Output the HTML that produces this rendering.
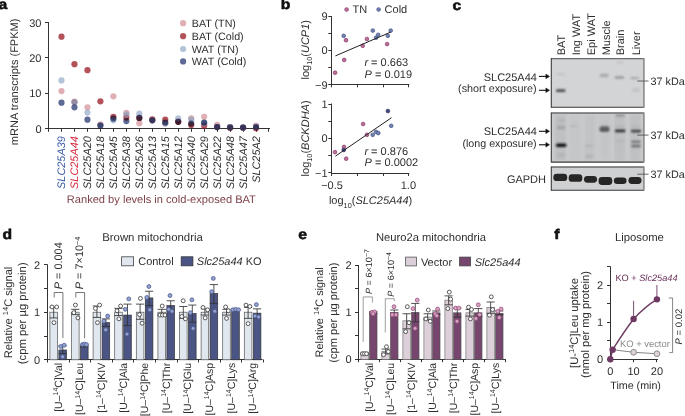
<!DOCTYPE html>
<html><head><meta charset="utf-8"><style>
html,body{margin:0;padding:0;background:#fff;width:685px;height:416px;overflow:hidden}
svg{display:block;will-change:transform;filter:blur(0.3px);text-rendering:geometricPrecision;font-family:"Liberation Sans",sans-serif}
</style></head><body>
<svg width="685" height="416" viewBox="0 0 685 416" fill="#2e2e2e">
<text transform="translate(-1.6,8.8) scale(1.12,1)" font-size="14" font-weight="bold" fill="#111" stroke="#111" stroke-width="0.55">a</text>
<text transform="translate(280.8,9.0) scale(1.12,1)" font-size="14" font-weight="bold" fill="#111" stroke="#111" stroke-width="0.55">b</text>
<text transform="translate(452.6,9.5) scale(1.12,1)" font-size="14" font-weight="bold" fill="#111" stroke="#111" stroke-width="0.55">c</text>
<text transform="translate(2.4,239.4) scale(1.12,1)" font-size="14" font-weight="bold" fill="#111" stroke="#111" stroke-width="0.55">d</text>
<text transform="translate(298.3,239.4) scale(1.12,1)" font-size="14" font-weight="bold" fill="#111" stroke="#111" stroke-width="0.55">e</text>
<text transform="translate(554.3,239.4) scale(1.12,1)" font-size="14" font-weight="bold" fill="#111" stroke="#111" stroke-width="0.55">f</text>
<line x1="48.50" y1="22.00" x2="48.50" y2="129.00" stroke="#333" stroke-width="1"/>
<line x1="48.00" y1="128.50" x2="270.00" y2="128.50" stroke="#333" stroke-width="1"/>
<line x1="45.00" y1="128.50" x2="48.50" y2="128.50" stroke="#333" stroke-width="1"/>
<text x="41.50" y="132.50" font-size="11" text-anchor="end">0</text>
<line x1="45.00" y1="93.50" x2="48.50" y2="93.50" stroke="#333" stroke-width="1"/>
<text x="41.50" y="97.17" font-size="11" text-anchor="end">10</text>
<line x1="45.00" y1="57.50" x2="48.50" y2="57.50" stroke="#333" stroke-width="1"/>
<text x="41.50" y="61.84" font-size="11" text-anchor="end">20</text>
<line x1="45.00" y1="22.50" x2="48.50" y2="22.50" stroke="#333" stroke-width="1"/>
<text x="41.50" y="26.51" font-size="11" text-anchor="end">30</text>
<line x1="48.50" y1="128.50" x2="48.50" y2="131.80" stroke="#333" stroke-width="1"/>
<line x1="61.50" y1="128.50" x2="61.50" y2="131.80" stroke="#333" stroke-width="1"/>
<line x1="74.50" y1="128.50" x2="74.50" y2="131.80" stroke="#333" stroke-width="1"/>
<line x1="87.50" y1="128.50" x2="87.50" y2="131.80" stroke="#333" stroke-width="1"/>
<line x1="100.50" y1="128.50" x2="100.50" y2="131.80" stroke="#333" stroke-width="1"/>
<line x1="113.50" y1="128.50" x2="113.50" y2="131.80" stroke="#333" stroke-width="1"/>
<line x1="126.50" y1="128.50" x2="126.50" y2="131.80" stroke="#333" stroke-width="1"/>
<line x1="139.50" y1="128.50" x2="139.50" y2="131.80" stroke="#333" stroke-width="1"/>
<line x1="152.50" y1="128.50" x2="152.50" y2="131.80" stroke="#333" stroke-width="1"/>
<line x1="165.50" y1="128.50" x2="165.50" y2="131.80" stroke="#333" stroke-width="1"/>
<line x1="178.50" y1="128.50" x2="178.50" y2="131.80" stroke="#333" stroke-width="1"/>
<line x1="191.50" y1="128.50" x2="191.50" y2="131.80" stroke="#333" stroke-width="1"/>
<line x1="204.50" y1="128.50" x2="204.50" y2="131.80" stroke="#333" stroke-width="1"/>
<line x1="217.50" y1="128.50" x2="217.50" y2="131.80" stroke="#333" stroke-width="1"/>
<line x1="230.50" y1="128.50" x2="230.50" y2="131.80" stroke="#333" stroke-width="1"/>
<line x1="243.50" y1="128.50" x2="243.50" y2="131.80" stroke="#333" stroke-width="1"/>
<line x1="256.50" y1="128.50" x2="256.50" y2="131.80" stroke="#333" stroke-width="1"/>
<line x1="268.50" y1="128.50" x2="268.50" y2="131.80" stroke="#333" stroke-width="1"/>
<text x="17.60" y="81.90" font-size="11" text-anchor="middle" transform="rotate(-90 17.60 81.90)">mRNA transcripts (FPKM)</text>
<text x="65.40" y="136.20" font-size="10.9" text-anchor="end" fill="#3b5ba5" font-style="italic" transform="rotate(-90 65.40 136.20)">SLC25A39</text>
<text x="78.37" y="136.20" font-size="10.9" text-anchor="end" fill="#d7263d" font-style="italic" transform="rotate(-90 78.37 136.20)">SLC25A44</text>
<text x="91.34" y="136.20" font-size="10.9" text-anchor="end" font-style="italic" transform="rotate(-90 91.34 136.20)">SLC25A20</text>
<text x="104.31" y="136.20" font-size="10.9" text-anchor="end" font-style="italic" transform="rotate(-90 104.31 136.20)">SLC25A18</text>
<text x="117.28" y="136.20" font-size="10.9" text-anchor="end" font-style="italic" transform="rotate(-90 117.28 136.20)">SLC25A45</text>
<text x="130.25" y="136.20" font-size="10.9" text-anchor="end" font-style="italic" transform="rotate(-90 130.25 136.20)">SLC25A38</text>
<text x="143.22" y="136.20" font-size="10.9" text-anchor="end" font-style="italic" transform="rotate(-90 143.22 136.20)">SLC25A26</text>
<text x="156.19" y="136.20" font-size="10.9" text-anchor="end" font-style="italic" transform="rotate(-90 156.19 136.20)">SLC25A13</text>
<text x="169.16" y="136.20" font-size="10.9" text-anchor="end" font-style="italic" transform="rotate(-90 169.16 136.20)">SLC25A15</text>
<text x="182.13" y="136.20" font-size="10.9" text-anchor="end" font-style="italic" transform="rotate(-90 182.13 136.20)">SLC25A12</text>
<text x="195.10" y="136.20" font-size="10.9" text-anchor="end" font-style="italic" transform="rotate(-90 195.10 136.20)">SLC25A40</text>
<text x="208.07" y="136.20" font-size="10.9" text-anchor="end" font-style="italic" transform="rotate(-90 208.07 136.20)">SLC25A29</text>
<text x="221.04" y="136.20" font-size="10.9" text-anchor="end" font-style="italic" transform="rotate(-90 221.04 136.20)">SLC25A22</text>
<text x="234.01" y="136.20" font-size="10.9" text-anchor="end" font-style="italic" transform="rotate(-90 234.01 136.20)">SLC25A48</text>
<text x="246.98" y="136.20" font-size="10.9" text-anchor="end" font-style="italic" transform="rotate(-90 246.98 136.20)">SLC25A47</text>
<text x="259.95" y="136.20" font-size="10.9" text-anchor="end" font-style="italic" transform="rotate(-90 259.95 136.20)">SLC25A2</text>
<text x="66.80" y="203.00" font-size="11.1" fill="#7d3f47">Ranked by levels in cold-exposed BAT</text>
<circle cx="61.50" cy="91.05" r="3.1" fill="rgb(204,128,134)" fill-opacity="0.63"/>
<circle cx="74.47" cy="101.65" r="3.1" fill="rgb(204,128,134)" fill-opacity="0.63"/>
<circle cx="87.44" cy="107.30" r="3.1" fill="rgb(204,128,134)" fill-opacity="0.63"/>
<circle cx="100.41" cy="124.26" r="3.1" fill="rgb(204,128,134)" fill-opacity="0.63"/>
<circle cx="113.38" cy="96.35" r="3.1" fill="rgb(204,128,134)" fill-opacity="0.63"/>
<circle cx="126.35" cy="112.95" r="3.1" fill="rgb(204,128,134)" fill-opacity="0.63"/>
<circle cx="139.32" cy="123.20" r="3.1" fill="rgb(204,128,134)" fill-opacity="0.63"/>
<circle cx="152.29" cy="120.37" r="3.1" fill="rgb(204,128,134)" fill-opacity="0.63"/>
<circle cx="165.26" cy="123.20" r="3.1" fill="rgb(204,128,134)" fill-opacity="0.63"/>
<circle cx="178.23" cy="121.08" r="3.1" fill="rgb(204,128,134)" fill-opacity="0.63"/>
<circle cx="191.20" cy="118.25" r="3.1" fill="rgb(204,128,134)" fill-opacity="0.63"/>
<circle cx="204.17" cy="116.84" r="3.1" fill="rgb(204,128,134)" fill-opacity="0.63"/>
<circle cx="217.14" cy="124.97" r="3.1" fill="rgb(204,128,134)" fill-opacity="0.63"/>
<circle cx="230.11" cy="127.09" r="3.1" fill="rgb(204,128,134)" fill-opacity="0.63"/>
<circle cx="243.08" cy="127.79" r="3.1" fill="rgb(204,128,134)" fill-opacity="0.63"/>
<circle cx="256.05" cy="125.67" r="3.1" fill="rgb(204,128,134)" fill-opacity="0.63"/>
<circle cx="61.50" cy="36.64" r="3.1" fill="rgb(155,24,35)" fill-opacity="0.75"/>
<circle cx="74.47" cy="64.20" r="3.1" fill="rgb(155,24,35)" fill-opacity="0.75"/>
<circle cx="87.44" cy="70.21" r="3.1" fill="rgb(155,24,35)" fill-opacity="0.75"/>
<circle cx="100.41" cy="101.30" r="3.1" fill="rgb(155,24,35)" fill-opacity="0.75"/>
<circle cx="113.38" cy="116.84" r="3.1" fill="rgb(155,24,35)" fill-opacity="0.75"/>
<circle cx="126.35" cy="117.55" r="3.1" fill="rgb(155,24,35)" fill-opacity="0.75"/>
<circle cx="139.32" cy="117.90" r="3.1" fill="rgb(155,24,35)" fill-opacity="0.75"/>
<circle cx="152.29" cy="119.31" r="3.1" fill="rgb(155,24,35)" fill-opacity="0.75"/>
<circle cx="165.26" cy="119.67" r="3.1" fill="rgb(155,24,35)" fill-opacity="0.75"/>
<circle cx="178.23" cy="121.79" r="3.1" fill="rgb(155,24,35)" fill-opacity="0.75"/>
<circle cx="191.20" cy="124.97" r="3.1" fill="rgb(155,24,35)" fill-opacity="0.75"/>
<circle cx="204.17" cy="125.67" r="3.1" fill="rgb(155,24,35)" fill-opacity="0.75"/>
<circle cx="217.14" cy="127.09" r="3.1" fill="rgb(155,24,35)" fill-opacity="0.75"/>
<circle cx="230.11" cy="127.79" r="3.1" fill="rgb(155,24,35)" fill-opacity="0.75"/>
<circle cx="243.08" cy="127.79" r="3.1" fill="rgb(155,24,35)" fill-opacity="0.75"/>
<circle cx="256.05" cy="128.15" r="3.1" fill="rgb(155,24,35)" fill-opacity="0.75"/>
<circle cx="61.50" cy="80.45" r="3.1" fill="rgb(134,160,193)" fill-opacity="0.63"/>
<circle cx="74.47" cy="102.36" r="3.1" fill="rgb(134,160,193)" fill-opacity="0.63"/>
<circle cx="87.44" cy="112.60" r="3.1" fill="rgb(134,160,193)" fill-opacity="0.63"/>
<circle cx="100.41" cy="125.32" r="3.1" fill="rgb(134,160,193)" fill-opacity="0.63"/>
<circle cx="113.38" cy="120.37" r="3.1" fill="rgb(134,160,193)" fill-opacity="0.63"/>
<circle cx="126.35" cy="114.37" r="3.1" fill="rgb(134,160,193)" fill-opacity="0.63"/>
<circle cx="139.32" cy="113.66" r="3.1" fill="rgb(134,160,193)" fill-opacity="0.63"/>
<circle cx="152.29" cy="120.37" r="3.1" fill="rgb(134,160,193)" fill-opacity="0.63"/>
<circle cx="165.26" cy="123.55" r="3.1" fill="rgb(134,160,193)" fill-opacity="0.63"/>
<circle cx="178.23" cy="118.25" r="3.1" fill="rgb(134,160,193)" fill-opacity="0.63"/>
<circle cx="191.20" cy="119.67" r="3.1" fill="rgb(134,160,193)" fill-opacity="0.63"/>
<circle cx="204.17" cy="123.20" r="3.1" fill="rgb(134,160,193)" fill-opacity="0.63"/>
<circle cx="217.14" cy="126.73" r="3.1" fill="rgb(134,160,193)" fill-opacity="0.63"/>
<circle cx="230.11" cy="127.09" r="3.1" fill="rgb(134,160,193)" fill-opacity="0.63"/>
<circle cx="243.08" cy="127.79" r="3.1" fill="rgb(134,160,193)" fill-opacity="0.63"/>
<circle cx="256.05" cy="126.73" r="3.1" fill="rgb(134,160,193)" fill-opacity="0.63"/>
<circle cx="61.50" cy="102.71" r="3.1" fill="rgb(93,106,149)" style="mix-blend-mode:multiply"/>
<circle cx="74.47" cy="107.30" r="3.1" fill="rgb(93,106,149)" style="mix-blend-mode:multiply"/>
<circle cx="87.44" cy="119.67" r="3.1" fill="rgb(93,106,149)" style="mix-blend-mode:multiply"/>
<circle cx="100.41" cy="125.67" r="3.1" fill="rgb(93,106,149)" style="mix-blend-mode:multiply"/>
<circle cx="113.38" cy="118.61" r="3.1" fill="rgb(93,106,149)" style="mix-blend-mode:multiply"/>
<circle cx="126.35" cy="121.08" r="3.1" fill="rgb(93,106,149)" style="mix-blend-mode:multiply"/>
<circle cx="139.32" cy="117.90" r="3.1" fill="rgb(93,106,149)" style="mix-blend-mode:multiply"/>
<circle cx="152.29" cy="120.37" r="3.1" fill="rgb(93,106,149)" style="mix-blend-mode:multiply"/>
<circle cx="165.26" cy="122.49" r="3.1" fill="rgb(93,106,149)" style="mix-blend-mode:multiply"/>
<circle cx="178.23" cy="121.79" r="3.1" fill="rgb(93,106,149)" style="mix-blend-mode:multiply"/>
<circle cx="191.20" cy="123.55" r="3.1" fill="rgb(93,106,149)" style="mix-blend-mode:multiply"/>
<circle cx="204.17" cy="122.49" r="3.1" fill="rgb(93,106,149)" style="mix-blend-mode:multiply"/>
<circle cx="217.14" cy="127.09" r="3.1" fill="rgb(93,106,149)" style="mix-blend-mode:multiply"/>
<circle cx="230.11" cy="127.44" r="3.1" fill="rgb(93,106,149)" style="mix-blend-mode:multiply"/>
<circle cx="243.08" cy="127.44" r="3.1" fill="rgb(93,106,149)" style="mix-blend-mode:multiply"/>
<circle cx="256.05" cy="127.09" r="3.1" fill="rgb(93,106,149)" style="mix-blend-mode:multiply"/>
<circle cx="74.47" cy="102.00" r="3.1" fill="rgb(110,80,115)" fill-opacity="0.3"/>
<circle cx="183.10" cy="23.20" r="3.1" fill="rgb(204,128,134)" fill-opacity="0.63"/>
<text x="191.80" y="27.20" font-size="10.7">BAT (TN)</text>
<circle cx="183.10" cy="36.20" r="3.1" fill="rgb(155,24,35)" fill-opacity="0.75"/>
<text x="191.80" y="40.20" font-size="10.7">BAT (Cold)</text>
<circle cx="183.10" cy="49.00" r="3.1" fill="rgb(134,160,193)" fill-opacity="0.63"/>
<text x="191.80" y="53.00" font-size="10.7">WAT (TN)</text>
<circle cx="183.10" cy="61.40" r="3.1" fill="rgb(0,19,87)" fill-opacity="0.63"/>
<text x="191.80" y="65.40" font-size="10.7">WAT (Cold)</text>
<line x1="331.50" y1="16.00" x2="331.50" y2="85.00" stroke="#333" stroke-width="1"/>
<line x1="331.00" y1="84.50" x2="409.30" y2="84.50" stroke="#333" stroke-width="1"/>
<line x1="328.30" y1="16.50" x2="331.50" y2="16.50" stroke="#333" stroke-width="1"/>
<text x="327.50" y="20.20" font-size="11" text-anchor="end">9</text>
<line x1="328.30" y1="33.50" x2="331.50" y2="33.50" stroke="#333" stroke-width="1"/>
<line x1="328.30" y1="50.50" x2="331.50" y2="50.50" stroke="#333" stroke-width="1"/>
<text x="327.50" y="54.40" font-size="11" text-anchor="end">0</text>
<line x1="328.30" y1="67.50" x2="331.50" y2="67.50" stroke="#333" stroke-width="1"/>
<line x1="328.30" y1="84.50" x2="331.50" y2="84.50" stroke="#333" stroke-width="1"/>
<text x="327.50" y="88.60" font-size="11" text-anchor="end">−9</text>
<line x1="331.50" y1="84.50" x2="331.50" y2="87.30" stroke="#333" stroke-width="1"/>
<line x1="357.50" y1="84.50" x2="357.50" y2="87.30" stroke="#333" stroke-width="1"/>
<line x1="383.50" y1="84.50" x2="383.50" y2="87.30" stroke="#333" stroke-width="1"/>
<line x1="408.50" y1="84.50" x2="408.50" y2="87.30" stroke="#333" stroke-width="1"/>
<circle cx="335.10" cy="72.70" r="1.85" fill="#bb7098" stroke="#8e3d6c" stroke-width="0.75"/>
<circle cx="344.20" cy="59.90" r="1.85" fill="#bb7098" stroke="#8e3d6c" stroke-width="0.75"/>
<circle cx="343.70" cy="35.80" r="1.85" fill="#7282ae" stroke="#4a5a8c" stroke-width="0.75"/>
<circle cx="346.00" cy="40.20" r="1.85" fill="#bb7098" stroke="#8e3d6c" stroke-width="0.75"/>
<circle cx="362.70" cy="45.80" r="1.85" fill="#bb7098" stroke="#8e3d6c" stroke-width="0.75"/>
<circle cx="366.90" cy="39.00" r="1.85" fill="#bb7098" stroke="#8e3d6c" stroke-width="0.75"/>
<circle cx="372.80" cy="30.60" r="1.85" fill="#7282ae" stroke="#4a5a8c" stroke-width="0.75"/>
<circle cx="376.00" cy="37.70" r="1.85" fill="#7282ae" stroke="#4a5a8c" stroke-width="0.75"/>
<circle cx="378.20" cy="34.80" r="1.85" fill="#7282ae" stroke="#4a5a8c" stroke-width="0.75"/>
<circle cx="387.80" cy="35.80" r="1.85" fill="#7282ae" stroke="#4a5a8c" stroke-width="0.75"/>
<circle cx="387.10" cy="44.10" r="1.85" fill="#bb7098" stroke="#8e3d6c" stroke-width="0.75"/>
<circle cx="390.70" cy="30.60" r="1.85" fill="#7282ae" stroke="#4a5a8c" stroke-width="0.75"/>
<line x1="335.40" y1="55.90" x2="390.70" y2="32.10" stroke="#222" stroke-width="1"/>
<text x="364.40" y="65.80" font-size="11"><tspan font-style="italic">r</tspan> = 0.663</text>
<text x="364.60" y="77.60" font-size="11"><tspan font-style="italic">P</tspan> = 0.019</text>
<text x="308.80" y="49.80" font-size="11" text-anchor="middle" transform="rotate(-90 308.80 49.80)">log<tspan font-size="7.3" dy="3.4">10</tspan><tspan dy="-3.4">(</tspan><tspan font-style="italic">UCP1</tspan>)</text>
<circle cx="346.60" cy="9.50" r="1.85" fill="#bb7098" stroke="#8e3d6c" stroke-width="0.75"/>
<text x="352.60" y="13.30" font-size="11">TN</text>
<circle cx="378.60" cy="9.50" r="1.85" fill="#7282ae" stroke="#4a5a8c" stroke-width="0.75"/>
<text x="384.60" y="13.30" font-size="11">Cold</text>
<line x1="331.50" y1="103.50" x2="331.50" y2="174.00" stroke="#333" stroke-width="1"/>
<line x1="331.00" y1="173.50" x2="409.30" y2="173.50" stroke="#333" stroke-width="1"/>
<line x1="328.30" y1="104.50" x2="331.50" y2="104.50" stroke="#333" stroke-width="1"/>
<text x="327.50" y="108.00" font-size="11" text-anchor="end">1</text>
<line x1="328.30" y1="121.50" x2="331.50" y2="121.50" stroke="#333" stroke-width="1"/>
<line x1="328.30" y1="138.50" x2="331.50" y2="138.50" stroke="#333" stroke-width="1"/>
<text x="327.50" y="142.40" font-size="11" text-anchor="end">0</text>
<line x1="328.30" y1="155.50" x2="331.50" y2="155.50" stroke="#333" stroke-width="1"/>
<line x1="328.30" y1="172.50" x2="331.50" y2="172.50" stroke="#333" stroke-width="1"/>
<text x="327.50" y="176.80" font-size="11" text-anchor="end">−1</text>
<line x1="331.50" y1="173.50" x2="331.50" y2="176.00" stroke="#333" stroke-width="1"/>
<line x1="357.50" y1="173.50" x2="357.50" y2="176.00" stroke="#333" stroke-width="1"/>
<line x1="383.50" y1="173.50" x2="383.50" y2="176.00" stroke="#333" stroke-width="1"/>
<line x1="408.50" y1="173.50" x2="408.50" y2="176.00" stroke="#333" stroke-width="1"/>
<circle cx="335.00" cy="152.10" r="1.85" fill="#bb7098" stroke="#8e3d6c" stroke-width="0.75"/>
<circle cx="344.00" cy="146.90" r="1.85" fill="#bb7098" stroke="#8e3d6c" stroke-width="0.75"/>
<circle cx="343.70" cy="150.00" r="1.85" fill="#45487a" stroke="#2e3262" stroke-width="0.75"/>
<circle cx="346.20" cy="158.70" r="1.85" fill="#bb7098" stroke="#8e3d6c" stroke-width="0.75"/>
<circle cx="363.10" cy="124.00" r="1.85" fill="#bb7098" stroke="#8e3d6c" stroke-width="0.75"/>
<circle cx="366.90" cy="134.80" r="1.85" fill="#bb7098" stroke="#8e3d6c" stroke-width="0.75"/>
<circle cx="372.70" cy="134.80" r="1.85" fill="#7282ae" stroke="#4a5a8c" stroke-width="0.75"/>
<circle cx="376.00" cy="131.90" r="1.85" fill="#7282ae" stroke="#4a5a8c" stroke-width="0.75"/>
<circle cx="378.30" cy="133.10" r="1.85" fill="#7282ae" stroke="#4a5a8c" stroke-width="0.75"/>
<circle cx="387.90" cy="111.00" r="1.85" fill="#45487a" stroke="#2e3262" stroke-width="0.75"/>
<circle cx="391.20" cy="125.80" r="1.85" fill="#7282ae" stroke="#4a5a8c" stroke-width="0.75"/>
<line x1="335.40" y1="156.20" x2="391.50" y2="117.70" stroke="#222" stroke-width="1"/>
<text x="364.40" y="154.60" font-size="11"><tspan font-style="italic">r</tspan> = 0.876</text>
<text x="364.60" y="166.40" font-size="11"><tspan font-style="italic">P</tspan> = 0.0002</text>
<text x="308.80" y="138.40" font-size="11" text-anchor="middle" transform="rotate(-90 308.80 138.40)">log<tspan font-size="7.3" dy="3.4">10</tspan><tspan dy="-3.4">(</tspan><tspan font-style="italic">BCKDHA</tspan>)</text>
<text x="332.00" y="188.80" font-size="11" text-anchor="middle">−0.5</text>
<text x="408.40" y="188.80" font-size="11" text-anchor="middle">1.0</text>
<text x="370.60" y="204.30" font-size="11" text-anchor="middle">log<tspan font-size="7.3" dy="3.4">10</tspan><tspan dy="-3.4">(</tspan><tspan font-style="italic">SLC25A44</tspan>)</text>
<defs><filter id="bl1" x="-50%" y="-200%" width="200%" height="500%"><feGaussianBlur stdDeviation="0.8"/></filter><filter id="bl2" x="-50%" y="-200%" width="200%" height="500%"><feGaussianBlur stdDeviation="0.55"/></filter><filter id="bl3" x="-50%" y="-200%" width="200%" height="500%"><feGaussianBlur stdDeviation="1.2"/></filter></defs>
<text x="565.20" y="55.30" font-size="11" transform="rotate(-90 565.20 55.30)">BAT</text>
<text x="580.00" y="55.30" font-size="11" transform="rotate(-90 580.00 55.30)">Ing WAT</text>
<text x="594.80" y="55.30" font-size="11" transform="rotate(-90 594.80 55.30)">Epi WAT</text>
<text x="609.60" y="55.30" font-size="11" transform="rotate(-90 609.60 55.30)">Muscle</text>
<text x="624.50" y="55.30" font-size="11" transform="rotate(-90 624.50 55.30)">Brain</text>
<text x="640.00" y="55.30" font-size="11" transform="rotate(-90 640.00 55.30)">Liver</text>
<rect x="551.30" y="58.70" width="92.60" height="48.60" fill="#d3d4d6"/>
<line x1="551.30" y1="58.70" x2="643.90" y2="58.70" stroke="#6a6a6a" stroke-width="1.3"/>
<line x1="551.30" y1="107.30" x2="643.90" y2="107.30" stroke="#3a3a3a" stroke-width="1.1"/>
<line x1="551.30" y1="58.10" x2="551.30" y2="107.80" stroke="#3a3a3a" stroke-width="1.1"/>
<line x1="643.90" y1="58.10" x2="643.90" y2="107.80" stroke="#8a8a8a" stroke-width="1.6"/>
<rect x="551.30" y="113.00" width="92.60" height="49.10" fill="#c9cbcd"/>
<line x1="551.30" y1="113.00" x2="643.90" y2="113.00" stroke="#6a6a6a" stroke-width="1.3"/>
<line x1="551.30" y1="162.10" x2="643.90" y2="162.10" stroke="#3a3a3a" stroke-width="1.1"/>
<line x1="551.30" y1="112.40" x2="551.30" y2="162.60" stroke="#3a3a3a" stroke-width="1.1"/>
<line x1="643.90" y1="112.40" x2="643.90" y2="162.60" stroke="#8a8a8a" stroke-width="1.6"/>
<rect x="551.30" y="167.00" width="92.60" height="23.30" fill="#cfd0d2"/>
<line x1="551.30" y1="167.00" x2="643.90" y2="167.00" stroke="#6a6a6a" stroke-width="1.3"/>
<line x1="551.30" y1="190.30" x2="643.90" y2="190.30" stroke="#3a3a3a" stroke-width="1.1"/>
<line x1="551.30" y1="166.40" x2="551.30" y2="190.80" stroke="#3a3a3a" stroke-width="1.1"/>
<line x1="643.90" y1="166.40" x2="643.90" y2="190.80" stroke="#8a8a8a" stroke-width="1.6"/>
<rect x="555.95" y="89.30" width="9.50" height="2.80" rx="1.40" fill="#3a3a3a" fill-opacity="0.9" filter="url(#bl1)"/>
<rect x="557.00" y="72.95" width="8.00" height="2.50" rx="1.25" fill="#bbb" fill-opacity="0.6" filter="url(#bl3)"/>
<rect x="599.70" y="73.75" width="9.00" height="3.50" rx="1.75" fill="#999" fill-opacity="0.7" filter="url(#bl1)"/>
<rect x="614.65" y="76.50" width="9.50" height="2.00" rx="1.00" fill="#777" fill-opacity="0.8" filter="url(#bl1)"/>
<rect x="616.00" y="61.05" width="8.00" height="2.50" rx="1.25" fill="#bbb" fill-opacity="0.6" filter="url(#bl3)"/>
<rect x="630.10" y="77.00" width="9.00" height="2.20" rx="1.10" fill="#999" fill-opacity="0.7" filter="url(#bl1)"/>
<rect x="632.00" y="88.00" width="8.00" height="4.00" rx="2.00" fill="#b8b8b8" fill-opacity="0.6" filter="url(#bl3)"/>
<rect x="555.00" y="114.5" width="11" height="46" fill="#666" fill-opacity="0.1" filter="url(#bl3)"/>
<rect x="569.80" y="114.5" width="11" height="46" fill="#666" fill-opacity="0.05" filter="url(#bl3)"/>
<rect x="584.60" y="114.5" width="11" height="46" fill="#666" fill-opacity="0.07" filter="url(#bl3)"/>
<rect x="599.40" y="114.5" width="11" height="46" fill="#666" fill-opacity="0.06" filter="url(#bl3)"/>
<rect x="614.30" y="114.5" width="11" height="46" fill="#666" fill-opacity="0.1" filter="url(#bl3)"/>
<rect x="629.80" y="114.5" width="11" height="46" fill="#666" fill-opacity="0.1" filter="url(#bl3)"/>
<rect x="555.95" y="143.60" width="10.50" height="3.40" rx="1.70" fill="#111" fill-opacity="1" filter="url(#bl1)"/>
<rect x="556.75" y="125.85" width="8.50" height="3.50" rx="1.75" fill="#999" fill-opacity="0.7" filter="url(#bl3)"/>
<rect x="557.00" y="119.35" width="8.00" height="2.50" rx="1.25" fill="#aaa" fill-opacity="0.6" filter="url(#bl3)"/>
<rect x="557.00" y="153.25" width="8.00" height="3.50" rx="1.75" fill="#aaa" fill-opacity="0.6" filter="url(#bl3)"/>
<rect x="569.50" y="124.85" width="8.00" height="2.50" rx="1.25" fill="#b0b0b0" fill-opacity="0.6" filter="url(#bl3)"/>
<rect x="585.00" y="144.45" width="8.00" height="2.50" rx="1.25" fill="#aaa" fill-opacity="0.6" filter="url(#bl3)"/>
<rect x="585.00" y="154.60" width="8.00" height="4.00" rx="2.00" fill="#aaa" fill-opacity="0.6" filter="url(#bl3)"/>
<rect x="599.50" y="126.00" width="10.00" height="5.20" rx="2.60" fill="#5a5a5a" fill-opacity="0.85" filter="url(#bl1)"/>
<rect x="599.75" y="129.30" width="9.50" height="2.20" rx="1.10" fill="#333" fill-opacity="0.6" filter="url(#bl1)"/>
<rect x="614.95" y="129.50" width="10.50" height="2.80" rx="1.40" fill="#222" fill-opacity="0.95" filter="url(#bl1)"/>
<rect x="615.70" y="113.80" width="9.00" height="3.00" rx="1.50" fill="#888" fill-opacity="0.7" filter="url(#bl1)"/>
<rect x="615.70" y="125.50" width="9.00" height="2.00" rx="1.00" fill="#aaa" fill-opacity="0.5" filter="url(#bl1)"/>
<rect x="615.70" y="140.00" width="9.00" height="2.00" rx="1.00" fill="#aaa" fill-opacity="0.5" filter="url(#bl1)"/>
<rect x="630.75" y="129.70" width="10.50" height="2.80" rx="1.40" fill="#333" fill-opacity="0.9" filter="url(#bl1)"/>
<rect x="631.25" y="140.50" width="9.50" height="2.40" rx="1.20" fill="#666" fill-opacity="0.8" filter="url(#bl1)"/>
<rect x="631.25" y="144.80" width="9.50" height="2.40" rx="1.20" fill="#555" fill-opacity="0.8" filter="url(#bl1)"/>
<rect x="631.50" y="125.50" width="9.00" height="2.00" rx="1.00" fill="#aaa" fill-opacity="0.5" filter="url(#bl1)"/>
<rect x="553.35" y="173.75" width="13.90" height="7.30" rx="3.4" fill="#262626" filter="url(#bl2)"/>
<rect x="568.65" y="174.20" width="13.70" height="7.60" rx="3.4" fill="#262626" filter="url(#bl2)"/>
<rect x="583.95" y="175.90" width="13.10" height="6.80" rx="3.4" fill="#262626" filter="url(#bl2)"/>
<rect x="598.55" y="177.10" width="13.70" height="7.80" rx="3.4" fill="#262626" filter="url(#bl2)"/>
<rect x="613.85" y="177.50" width="12.70" height="6.40" rx="3.4" fill="#262626" filter="url(#bl2)"/>
<rect x="628.45" y="177.05" width="13.10" height="6.90" rx="3.4" fill="#262626" filter="url(#bl2)"/>
<line x1="637.30" y1="81.00" x2="648.50" y2="81.00" stroke="#555" stroke-width="0.9"/>
<text x="650.60" y="84.60" font-size="10.8">37 kDa</text>
<line x1="637.30" y1="135.10" x2="648.50" y2="135.10" stroke="#555" stroke-width="0.9"/>
<text x="650.60" y="138.70" font-size="10.8">37 kDa</text>
<line x1="637.30" y1="174.20" x2="648.50" y2="174.20" stroke="#555" stroke-width="0.9"/>
<text x="650.60" y="177.80" font-size="10.8">37 kDa</text>
<text x="536.90" y="80.50" font-size="11" text-anchor="end">SLC25A44</text>
<line x1="539.00" y1="76.40" x2="547.00" y2="76.40" stroke="#111" stroke-width="1.1"/>
<path d="M545.90,74.10 L549.50,76.40 L545.90,78.70 Z" stroke="#111" stroke-width="0.5" fill="#111"/>
<text x="536.70" y="92.20" font-size="10.8" text-anchor="end">(short exposure)</text>
<line x1="539.00" y1="90.30" x2="547.00" y2="90.30" stroke="#111" stroke-width="1.1"/>
<path d="M545.90,88.00 L549.50,90.30 L545.90,92.60 Z" stroke="#111" stroke-width="0.5" fill="#111"/>
<text x="536.90" y="134.80" font-size="11" text-anchor="end">SLC25A44</text>
<line x1="539.00" y1="131.30" x2="547.00" y2="131.30" stroke="#111" stroke-width="1.1"/>
<path d="M545.90,129.00 L549.50,131.30 L545.90,133.60 Z" stroke="#111" stroke-width="0.5" fill="#111"/>
<text x="536.70" y="146.70" font-size="10.7" text-anchor="end">(long exposure)</text>
<line x1="539.00" y1="144.80" x2="547.00" y2="144.80" stroke="#111" stroke-width="1.1"/>
<path d="M545.90,142.50 L549.50,144.80 L545.90,147.10 Z" stroke="#111" stroke-width="0.5" fill="#111"/>
<text x="546.00" y="183.30" font-size="11" text-anchor="end">GAPDH</text>
<line x1="47.50" y1="264.50" x2="47.50" y2="360.00" stroke="#333" stroke-width="1"/>
<line x1="47.00" y1="359.50" x2="262.50" y2="359.50" stroke="#333" stroke-width="1"/>
<line x1="44.00" y1="264.50" x2="47.50" y2="264.50" stroke="#333" stroke-width="1"/>
<text x="40.00" y="268.60" font-size="11" text-anchor="end">2</text>
<line x1="44.00" y1="288.50" x2="47.50" y2="288.50" stroke="#333" stroke-width="1"/>
<line x1="44.00" y1="312.50" x2="47.50" y2="312.50" stroke="#333" stroke-width="1"/>
<text x="40.00" y="316.20" font-size="11" text-anchor="end">1</text>
<line x1="44.00" y1="336.50" x2="47.50" y2="336.50" stroke="#333" stroke-width="1"/>
<line x1="44.00" y1="359.50" x2="47.50" y2="359.50" stroke="#333" stroke-width="1"/>
<text x="40.00" y="363.80" font-size="11" text-anchor="end">0</text>
<line x1="47.50" y1="359.50" x2="47.50" y2="362.50" stroke="#333" stroke-width="1"/>
<line x1="69.50" y1="359.50" x2="69.50" y2="362.50" stroke="#333" stroke-width="1"/>
<line x1="90.50" y1="359.50" x2="90.50" y2="362.50" stroke="#333" stroke-width="1"/>
<line x1="112.50" y1="359.50" x2="112.50" y2="362.50" stroke="#333" stroke-width="1"/>
<line x1="133.50" y1="359.50" x2="133.50" y2="362.50" stroke="#333" stroke-width="1"/>
<line x1="155.50" y1="359.50" x2="155.50" y2="362.50" stroke="#333" stroke-width="1"/>
<line x1="177.50" y1="359.50" x2="177.50" y2="362.50" stroke="#333" stroke-width="1"/>
<line x1="198.50" y1="359.50" x2="198.50" y2="362.50" stroke="#333" stroke-width="1"/>
<line x1="220.50" y1="359.50" x2="220.50" y2="362.50" stroke="#333" stroke-width="1"/>
<line x1="241.50" y1="359.50" x2="241.50" y2="362.50" stroke="#333" stroke-width="1"/>
<line x1="263.50" y1="359.50" x2="263.50" y2="362.50" stroke="#333" stroke-width="1"/>
<text x="11.80" y="312.50" font-size="11.1" text-anchor="middle" transform="rotate(-90 11.80 312.50)">Relative <tspan font-size="7.5" dy="-4">14</tspan><tspan dy="4">C signal</tspan></text>
<text x="25.60" y="313.30" font-size="11.3" text-anchor="middle" transform="rotate(-90 25.60 313.30)">(cpm per µg protein)</text>
<text x="152.50" y="240.80" font-size="11.4" text-anchor="middle">Brown mitochondria</text>
<rect x="121.60" y="256.80" width="12.00" height="9.00" fill="#e0e7ef" stroke="#444" stroke-width="0.8"/>
<text x="138.20" y="265.00" font-size="11">Control</text>
<rect x="181.20" y="256.80" width="11.70" height="9.00" fill="#4a5585" stroke="#333" stroke-width="0.8"/>
<text x="196.80" y="265.00" font-size="11"><tspan font-style="italic">Slc25a44</tspan> KO</text>
<rect x="49.90" y="312.20" width="7.60" height="47.60" fill="#e0e7ef" stroke="#555" stroke-width="0.7"/>
<line x1="53.70" y1="307.44" x2="53.70" y2="317.91" stroke="#333" stroke-width="0.85"/>
<line x1="49.60" y1="307.44" x2="57.80" y2="307.44" stroke="#333" stroke-width="0.85"/>
<line x1="49.60" y1="317.91" x2="57.80" y2="317.91" stroke="#333" stroke-width="0.85"/>
<circle cx="52.00" cy="306.96" r="1.95" fill="#fff" stroke="#333" stroke-width="0.8"/>
<circle cx="56.70" cy="306.96" r="1.95" fill="#fff" stroke="#333" stroke-width="0.8"/>
<circle cx="54.00" cy="322.67" r="1.95" fill="#fff" stroke="#333" stroke-width="0.8"/>
<rect x="58.90" y="349.99" width="7.60" height="9.81" fill="#4a5585" stroke="#333" stroke-width="0.7"/>
<line x1="62.70" y1="345.76" x2="62.70" y2="353.61" stroke="#333" stroke-width="0.85"/>
<line x1="58.60" y1="345.76" x2="66.80" y2="345.76" stroke="#333" stroke-width="0.85"/>
<line x1="58.60" y1="353.61" x2="66.80" y2="353.61" stroke="#333" stroke-width="0.85"/>
<circle cx="60.75" cy="346.47" r="1.95" fill="#95a3cf" stroke="#4d5b92" stroke-width="0.8"/>
<circle cx="64.20" cy="345.28" r="1.95" fill="#95a3cf" stroke="#4d5b92" stroke-width="0.8"/>
<circle cx="62.60" cy="356.71" r="1.95" fill="#95a3cf" stroke="#4d5b92" stroke-width="0.8"/>
<text x="61.80" y="362.80" font-size="10.5" text-anchor="end" transform="rotate(-90 61.80 362.80)">[U–<tspan font-size="7" dy="-3.5">14</tspan><tspan dy="3.5">C]Val</tspan></text>
<rect x="71.50" y="312.20" width="7.60" height="47.60" fill="#e0e7ef" stroke="#555" stroke-width="0.7"/>
<line x1="75.30" y1="309.34" x2="75.30" y2="314.58" stroke="#333" stroke-width="0.85"/>
<line x1="71.20" y1="309.34" x2="79.40" y2="309.34" stroke="#333" stroke-width="0.85"/>
<line x1="71.20" y1="314.58" x2="79.40" y2="314.58" stroke="#333" stroke-width="0.85"/>
<circle cx="75.40" cy="305.06" r="1.95" fill="#fff" stroke="#333" stroke-width="0.8"/>
<circle cx="73.90" cy="312.68" r="1.95" fill="#fff" stroke="#333" stroke-width="0.8"/>
<circle cx="77.90" cy="317.91" r="1.95" fill="#fff" stroke="#333" stroke-width="0.8"/>
<rect x="80.50" y="346.00" width="7.60" height="13.80" fill="#4a5585" stroke="#333" stroke-width="0.7"/>
<line x1="84.30" y1="345.04" x2="84.30" y2="346.95" stroke="#333" stroke-width="0.85"/>
<line x1="80.20" y1="345.04" x2="88.40" y2="345.04" stroke="#333" stroke-width="0.85"/>
<line x1="80.20" y1="346.95" x2="88.40" y2="346.95" stroke="#333" stroke-width="0.85"/>
<circle cx="82.50" cy="344.57" r="1.95" fill="#95a3cf" stroke="#4d5b92" stroke-width="0.8"/>
<circle cx="84.50" cy="344.09" r="1.95" fill="#95a3cf" stroke="#4d5b92" stroke-width="0.8"/>
<circle cx="86.50" cy="344.57" r="1.95" fill="#95a3cf" stroke="#4d5b92" stroke-width="0.8"/>
<text x="83.40" y="362.80" font-size="10.5" text-anchor="end" transform="rotate(-90 83.40 362.80)">[U–<tspan font-size="7" dy="-3.5">14</tspan><tspan dy="3.5">C]Leu</tspan></text>
<rect x="93.10" y="312.20" width="7.60" height="47.60" fill="#e0e7ef" stroke="#555" stroke-width="0.7"/>
<line x1="96.90" y1="306.01" x2="96.90" y2="317.44" stroke="#333" stroke-width="0.85"/>
<line x1="92.80" y1="306.01" x2="101.00" y2="306.01" stroke="#333" stroke-width="0.85"/>
<line x1="92.80" y1="317.44" x2="101.00" y2="317.44" stroke="#333" stroke-width="0.85"/>
<circle cx="95.40" cy="308.39" r="1.95" fill="#fff" stroke="#333" stroke-width="0.8"/>
<circle cx="99.60" cy="305.06" r="1.95" fill="#fff" stroke="#333" stroke-width="0.8"/>
<circle cx="97.50" cy="322.67" r="1.95" fill="#fff" stroke="#333" stroke-width="0.8"/>
<rect x="102.10" y="322.67" width="7.60" height="37.13" fill="#4a5585" stroke="#333" stroke-width="0.7"/>
<line x1="105.90" y1="318.86" x2="105.90" y2="326.48" stroke="#333" stroke-width="0.85"/>
<line x1="101.80" y1="318.86" x2="110.00" y2="318.86" stroke="#333" stroke-width="0.85"/>
<line x1="101.80" y1="326.48" x2="110.00" y2="326.48" stroke="#333" stroke-width="0.85"/>
<circle cx="107.70" cy="316.01" r="1.95" fill="#95a3cf" stroke="#4d5b92" stroke-width="0.8"/>
<circle cx="103.90" cy="321.24" r="1.95" fill="#95a3cf" stroke="#4d5b92" stroke-width="0.8"/>
<circle cx="105.70" cy="329.81" r="1.95" fill="#95a3cf" stroke="#4d5b92" stroke-width="0.8"/>
<text x="105.00" y="362.80" font-size="10.5" text-anchor="end" transform="rotate(-90 105.00 362.80)">[1–<tspan font-size="7" dy="-3.5">14</tspan><tspan dy="3.5">C]KIV</tspan></text>
<rect x="114.70" y="312.20" width="7.60" height="47.60" fill="#e0e7ef" stroke="#555" stroke-width="0.7"/>
<line x1="118.50" y1="308.39" x2="118.50" y2="315.53" stroke="#333" stroke-width="0.85"/>
<line x1="114.40" y1="308.39" x2="122.60" y2="308.39" stroke="#333" stroke-width="0.85"/>
<line x1="114.40" y1="315.53" x2="122.60" y2="315.53" stroke="#333" stroke-width="0.85"/>
<circle cx="117.00" cy="310.77" r="1.95" fill="#fff" stroke="#333" stroke-width="0.8"/>
<circle cx="120.60" cy="306.01" r="1.95" fill="#fff" stroke="#333" stroke-width="0.8"/>
<circle cx="118.90" cy="318.86" r="1.95" fill="#fff" stroke="#333" stroke-width="0.8"/>
<rect x="123.70" y="315.06" width="7.60" height="44.74" fill="#4a5585" stroke="#333" stroke-width="0.7"/>
<line x1="127.50" y1="304.11" x2="127.50" y2="325.53" stroke="#333" stroke-width="0.85"/>
<line x1="123.40" y1="304.11" x2="131.60" y2="304.11" stroke="#333" stroke-width="0.85"/>
<line x1="123.40" y1="325.53" x2="131.60" y2="325.53" stroke="#333" stroke-width="0.85"/>
<circle cx="128.80" cy="298.87" r="1.95" fill="#95a3cf" stroke="#4d5b92" stroke-width="0.8"/>
<circle cx="125.30" cy="309.34" r="1.95" fill="#95a3cf" stroke="#4d5b92" stroke-width="0.8"/>
<circle cx="127.00" cy="334.10" r="1.95" fill="#95a3cf" stroke="#4d5b92" stroke-width="0.8"/>
<text x="126.60" y="362.80" font-size="10.5" text-anchor="end" transform="rotate(-90 126.60 362.80)">[U–<tspan font-size="7" dy="-3.5">14</tspan><tspan dy="3.5">C]Ala</tspan></text>
<rect x="136.30" y="312.20" width="7.60" height="47.60" fill="#e0e7ef" stroke="#555" stroke-width="0.7"/>
<line x1="140.10" y1="304.11" x2="140.10" y2="319.34" stroke="#333" stroke-width="0.85"/>
<line x1="136.00" y1="304.11" x2="144.20" y2="304.11" stroke="#333" stroke-width="0.85"/>
<line x1="136.00" y1="319.34" x2="144.20" y2="319.34" stroke="#333" stroke-width="0.85"/>
<circle cx="140.40" cy="298.40" r="1.95" fill="#fff" stroke="#333" stroke-width="0.8"/>
<circle cx="139.50" cy="314.58" r="1.95" fill="#fff" stroke="#333" stroke-width="0.8"/>
<circle cx="142.10" cy="323.15" r="1.95" fill="#fff" stroke="#333" stroke-width="0.8"/>
<rect x="145.30" y="297.92" width="7.60" height="61.88" fill="#4a5585" stroke="#333" stroke-width="0.7"/>
<line x1="149.10" y1="291.26" x2="149.10" y2="305.54" stroke="#333" stroke-width="0.85"/>
<line x1="145.00" y1="291.26" x2="153.20" y2="291.26" stroke="#333" stroke-width="0.85"/>
<line x1="145.00" y1="305.54" x2="153.20" y2="305.54" stroke="#333" stroke-width="0.85"/>
<circle cx="148.90" cy="286.50" r="1.95" fill="#95a3cf" stroke="#4d5b92" stroke-width="0.8"/>
<circle cx="146.80" cy="297.44" r="1.95" fill="#95a3cf" stroke="#4d5b92" stroke-width="0.8"/>
<circle cx="149.80" cy="309.82" r="1.95" fill="#95a3cf" stroke="#4d5b92" stroke-width="0.8"/>
<text x="148.20" y="362.80" font-size="10.5" text-anchor="end" transform="rotate(-90 148.20 362.80)">[U–<tspan font-size="7" dy="-3.5">14</tspan><tspan dy="3.5">C]Phe</tspan></text>
<rect x="157.90" y="312.20" width="7.60" height="47.60" fill="#e0e7ef" stroke="#555" stroke-width="0.7"/>
<line x1="161.70" y1="309.34" x2="161.70" y2="315.06" stroke="#333" stroke-width="0.85"/>
<line x1="157.60" y1="309.34" x2="165.80" y2="309.34" stroke="#333" stroke-width="0.85"/>
<line x1="157.60" y1="315.06" x2="165.80" y2="315.06" stroke="#333" stroke-width="0.85"/>
<circle cx="162.20" cy="306.01" r="1.95" fill="#fff" stroke="#333" stroke-width="0.8"/>
<circle cx="160.00" cy="315.06" r="1.95" fill="#fff" stroke="#333" stroke-width="0.8"/>
<circle cx="162.50" cy="315.06" r="1.95" fill="#fff" stroke="#333" stroke-width="0.8"/>
<circle cx="165.00" cy="315.06" r="1.95" fill="#fff" stroke="#333" stroke-width="0.8"/>
<rect x="166.90" y="305.54" width="7.60" height="54.26" fill="#4a5585" stroke="#333" stroke-width="0.7"/>
<line x1="170.70" y1="300.78" x2="170.70" y2="310.30" stroke="#333" stroke-width="0.85"/>
<line x1="166.60" y1="300.78" x2="174.80" y2="300.78" stroke="#333" stroke-width="0.85"/>
<line x1="166.60" y1="310.30" x2="174.80" y2="310.30" stroke="#333" stroke-width="0.85"/>
<circle cx="170.00" cy="295.54" r="1.95" fill="#95a3cf" stroke="#4d5b92" stroke-width="0.8"/>
<circle cx="168.70" cy="309.34" r="1.95" fill="#95a3cf" stroke="#4d5b92" stroke-width="0.8"/>
<circle cx="172.00" cy="311.25" r="1.95" fill="#95a3cf" stroke="#4d5b92" stroke-width="0.8"/>
<text x="169.80" y="362.80" font-size="10.5" text-anchor="end" transform="rotate(-90 169.80 362.80)">[U–<tspan font-size="7" dy="-3.5">14</tspan><tspan dy="3.5">C]Thr</tspan></text>
<rect x="179.50" y="312.20" width="7.60" height="47.60" fill="#e0e7ef" stroke="#555" stroke-width="0.7"/>
<line x1="183.30" y1="306.49" x2="183.30" y2="318.39" stroke="#333" stroke-width="0.85"/>
<line x1="179.20" y1="306.49" x2="187.40" y2="306.49" stroke="#333" stroke-width="0.85"/>
<line x1="179.20" y1="318.39" x2="187.40" y2="318.39" stroke="#333" stroke-width="0.85"/>
<circle cx="183.20" cy="300.78" r="1.95" fill="#fff" stroke="#333" stroke-width="0.8"/>
<circle cx="181.80" cy="316.48" r="1.95" fill="#fff" stroke="#333" stroke-width="0.8"/>
<circle cx="185.40" cy="318.86" r="1.95" fill="#fff" stroke="#333" stroke-width="0.8"/>
<rect x="188.50" y="313.63" width="7.60" height="46.17" fill="#4a5585" stroke="#333" stroke-width="0.7"/>
<line x1="192.30" y1="305.06" x2="192.30" y2="322.20" stroke="#333" stroke-width="0.85"/>
<line x1="188.20" y1="305.06" x2="196.40" y2="305.06" stroke="#333" stroke-width="0.85"/>
<line x1="188.20" y1="322.20" x2="196.40" y2="322.20" stroke="#333" stroke-width="0.85"/>
<circle cx="191.90" cy="299.82" r="1.95" fill="#95a3cf" stroke="#4d5b92" stroke-width="0.8"/>
<circle cx="190.40" cy="312.68" r="1.95" fill="#95a3cf" stroke="#4d5b92" stroke-width="0.8"/>
<circle cx="193.10" cy="328.38" r="1.95" fill="#95a3cf" stroke="#4d5b92" stroke-width="0.8"/>
<text x="191.40" y="362.80" font-size="10.5" text-anchor="end" transform="rotate(-90 191.40 362.80)">[U–<tspan font-size="7" dy="-3.5">14</tspan><tspan dy="3.5">C]Glu</tspan></text>
<rect x="201.10" y="312.20" width="7.60" height="47.60" fill="#e0e7ef" stroke="#555" stroke-width="0.7"/>
<line x1="204.90" y1="308.87" x2="204.90" y2="315.06" stroke="#333" stroke-width="0.85"/>
<line x1="200.80" y1="308.87" x2="209.00" y2="308.87" stroke="#333" stroke-width="0.85"/>
<line x1="200.80" y1="315.06" x2="209.00" y2="315.06" stroke="#333" stroke-width="0.85"/>
<circle cx="203.00" cy="307.44" r="1.95" fill="#fff" stroke="#333" stroke-width="0.8"/>
<circle cx="207.60" cy="309.82" r="1.95" fill="#fff" stroke="#333" stroke-width="0.8"/>
<circle cx="205.20" cy="317.91" r="1.95" fill="#fff" stroke="#333" stroke-width="0.8"/>
<rect x="210.10" y="293.64" width="7.60" height="66.16" fill="#4a5585" stroke="#333" stroke-width="0.7"/>
<line x1="213.90" y1="284.59" x2="213.90" y2="303.63" stroke="#333" stroke-width="0.85"/>
<line x1="209.80" y1="284.59" x2="218.00" y2="284.59" stroke="#333" stroke-width="0.85"/>
<line x1="209.80" y1="303.63" x2="218.00" y2="303.63" stroke="#333" stroke-width="0.85"/>
<circle cx="213.30" cy="278.40" r="1.95" fill="#95a3cf" stroke="#4d5b92" stroke-width="0.8"/>
<circle cx="211.70" cy="291.73" r="1.95" fill="#95a3cf" stroke="#4d5b92" stroke-width="0.8"/>
<circle cx="214.80" cy="311.25" r="1.95" fill="#95a3cf" stroke="#4d5b92" stroke-width="0.8"/>
<text x="213.00" y="362.80" font-size="10.5" text-anchor="end" transform="rotate(-90 213.00 362.80)">[U–<tspan font-size="7" dy="-3.5">14</tspan><tspan dy="3.5">C]Asp</tspan></text>
<rect x="222.70" y="312.20" width="7.60" height="47.60" fill="#e0e7ef" stroke="#555" stroke-width="0.7"/>
<line x1="226.50" y1="309.34" x2="226.50" y2="315.06" stroke="#333" stroke-width="0.85"/>
<line x1="222.40" y1="309.34" x2="230.60" y2="309.34" stroke="#333" stroke-width="0.85"/>
<line x1="222.40" y1="315.06" x2="230.60" y2="315.06" stroke="#333" stroke-width="0.85"/>
<circle cx="225.60" cy="306.96" r="1.95" fill="#fff" stroke="#333" stroke-width="0.8"/>
<circle cx="228.30" cy="310.77" r="1.95" fill="#fff" stroke="#333" stroke-width="0.8"/>
<circle cx="226.50" cy="318.39" r="1.95" fill="#fff" stroke="#333" stroke-width="0.8"/>
<rect x="231.70" y="309.82" width="7.60" height="49.98" fill="#4a5585" stroke="#333" stroke-width="0.7"/>
<line x1="235.50" y1="308.87" x2="235.50" y2="310.77" stroke="#333" stroke-width="0.85"/>
<line x1="231.40" y1="308.87" x2="239.60" y2="308.87" stroke="#333" stroke-width="0.85"/>
<line x1="231.40" y1="310.77" x2="239.60" y2="310.77" stroke="#333" stroke-width="0.85"/>
<circle cx="232.80" cy="309.82" r="1.95" fill="#95a3cf" stroke="#4d5b92" stroke-width="0.8"/>
<circle cx="235.70" cy="309.34" r="1.95" fill="#95a3cf" stroke="#4d5b92" stroke-width="0.8"/>
<circle cx="238.60" cy="309.82" r="1.95" fill="#95a3cf" stroke="#4d5b92" stroke-width="0.8"/>
<text x="234.60" y="362.80" font-size="10.5" text-anchor="end" transform="rotate(-90 234.60 362.80)">[U–<tspan font-size="7" dy="-3.5">14</tspan><tspan dy="3.5">C]Lys</tspan></text>
<rect x="244.30" y="312.20" width="7.60" height="47.60" fill="#e0e7ef" stroke="#555" stroke-width="0.7"/>
<line x1="248.10" y1="307.44" x2="248.10" y2="318.39" stroke="#333" stroke-width="0.85"/>
<line x1="244.00" y1="307.44" x2="252.20" y2="307.44" stroke="#333" stroke-width="0.85"/>
<line x1="244.00" y1="318.39" x2="252.20" y2="318.39" stroke="#333" stroke-width="0.85"/>
<circle cx="246.00" cy="305.06" r="1.95" fill="#fff" stroke="#333" stroke-width="0.8"/>
<circle cx="249.90" cy="306.49" r="1.95" fill="#fff" stroke="#333" stroke-width="0.8"/>
<circle cx="248.10" cy="323.62" r="1.95" fill="#fff" stroke="#333" stroke-width="0.8"/>
<rect x="253.30" y="313.15" width="7.60" height="46.65" fill="#4a5585" stroke="#333" stroke-width="0.7"/>
<line x1="257.10" y1="308.87" x2="257.10" y2="317.91" stroke="#333" stroke-width="0.85"/>
<line x1="253.00" y1="308.87" x2="261.20" y2="308.87" stroke="#333" stroke-width="0.85"/>
<line x1="253.00" y1="317.91" x2="261.20" y2="317.91" stroke="#333" stroke-width="0.85"/>
<circle cx="256.40" cy="304.58" r="1.95" fill="#95a3cf" stroke="#4d5b92" stroke-width="0.8"/>
<circle cx="255.00" cy="316.01" r="1.95" fill="#95a3cf" stroke="#4d5b92" stroke-width="0.8"/>
<circle cx="258.60" cy="316.96" r="1.95" fill="#95a3cf" stroke="#4d5b92" stroke-width="0.8"/>
<text x="256.20" y="362.80" font-size="10.5" text-anchor="end" transform="rotate(-90 256.20 362.80)">[U–<tspan font-size="7" dy="-3.5">14</tspan><tspan dy="3.5">C]Arg</tspan></text>
<path d="M54.2,297.5 V292.5 H62.9 V338" stroke="#555" stroke-width="0.8" fill="none"/>
<path d="M75.8,297.5 V292.5 H84.6 V338.4" stroke="#555" stroke-width="0.8" fill="none"/>
<text x="61.90" y="289.20" font-size="10.9" transform="rotate(-90 61.90 289.20)"><tspan font-style="italic">P</tspan> = 0.004</text>
<text x="83.50" y="289.20" font-size="10.9" transform="rotate(-90 83.50 289.20)"><tspan font-style="italic">P</tspan> = 7×10<tspan font-size="7.3" dy="-3.7">−4</tspan></text>
<line x1="358.50" y1="265.00" x2="358.50" y2="360.00" stroke="#333" stroke-width="1"/>
<line x1="358.00" y1="359.50" x2="505.80" y2="359.50" stroke="#333" stroke-width="1"/>
<line x1="355.00" y1="265.50" x2="358.50" y2="265.50" stroke="#333" stroke-width="1"/>
<text x="351.70" y="269.30" font-size="11" text-anchor="end">2</text>
<line x1="355.00" y1="288.50" x2="358.50" y2="288.50" stroke="#333" stroke-width="1"/>
<line x1="355.00" y1="312.50" x2="358.50" y2="312.50" stroke="#333" stroke-width="1"/>
<text x="351.70" y="316.35" font-size="11" text-anchor="end">1</text>
<line x1="355.00" y1="335.50" x2="358.50" y2="335.50" stroke="#333" stroke-width="1"/>
<line x1="355.00" y1="359.50" x2="358.50" y2="359.50" stroke="#333" stroke-width="1"/>
<text x="351.70" y="363.40" font-size="11" text-anchor="end">0</text>
<line x1="358.50" y1="359.50" x2="358.50" y2="362.20" stroke="#333" stroke-width="1"/>
<line x1="379.50" y1="359.50" x2="379.50" y2="362.20" stroke="#333" stroke-width="1"/>
<line x1="400.50" y1="359.50" x2="400.50" y2="362.20" stroke="#333" stroke-width="1"/>
<line x1="421.50" y1="359.50" x2="421.50" y2="362.20" stroke="#333" stroke-width="1"/>
<line x1="442.50" y1="359.50" x2="442.50" y2="362.20" stroke="#333" stroke-width="1"/>
<line x1="463.50" y1="359.50" x2="463.50" y2="362.20" stroke="#333" stroke-width="1"/>
<line x1="484.50" y1="359.50" x2="484.50" y2="362.20" stroke="#333" stroke-width="1"/>
<line x1="505.50" y1="359.50" x2="505.50" y2="362.20" stroke="#333" stroke-width="1"/>
<text x="323.30" y="312.40" font-size="10.9" text-anchor="middle" transform="rotate(-90 323.30 312.40)">Relative <tspan font-size="7.5" dy="-4">14</tspan><tspan dy="4">C signal</tspan></text>
<text x="336.80" y="312.60" font-size="11.1" text-anchor="middle" transform="rotate(-90 336.80 312.60)">(cpm per µg protein)</text>
<text x="431.00" y="240.90" font-size="11.2" text-anchor="middle">Neuro2a mitochondria</text>
<rect x="405.60" y="257.10" width="10.80" height="8.80" fill="#dccfd9" stroke="#555" stroke-width="0.8"/>
<text x="420.90" y="265.80" font-size="11">Vector</text>
<rect x="459.60" y="257.10" width="10.90" height="8.80" fill="#76466f" stroke="#444" stroke-width="0.8"/>
<text x="474.70" y="265.80" font-size="11"><tspan font-style="italic">Slc25a44</tspan></text>
<rect x="360.90" y="353.28" width="7.50" height="6.12" fill="#dccfd9" stroke="#777" stroke-width="0.7"/>
<line x1="364.65" y1="352.34" x2="364.65" y2="354.22" stroke="#333" stroke-width="0.85"/>
<line x1="360.55" y1="352.34" x2="368.75" y2="352.34" stroke="#333" stroke-width="0.85"/>
<line x1="360.55" y1="354.22" x2="368.75" y2="354.22" stroke="#333" stroke-width="0.85"/>
<circle cx="362.50" cy="353.75" r="1.95" fill="#fff" stroke="#333" stroke-width="0.8"/>
<circle cx="364.50" cy="353.75" r="1.95" fill="#fff" stroke="#333" stroke-width="0.8"/>
<circle cx="366.50" cy="353.75" r="1.95" fill="#fff" stroke="#333" stroke-width="0.8"/>
<rect x="369.60" y="312.35" width="7.40" height="47.05" fill="#76466f" stroke="#555" stroke-width="0.7"/>
<line x1="373.30" y1="311.41" x2="373.30" y2="313.29" stroke="#333" stroke-width="0.85"/>
<line x1="369.20" y1="311.41" x2="377.40" y2="311.41" stroke="#333" stroke-width="0.85"/>
<line x1="369.20" y1="313.29" x2="377.40" y2="313.29" stroke="#333" stroke-width="0.85"/>
<circle cx="372.00" cy="312.35" r="1.95" fill="#d4a5c0" stroke="#9a4f80" stroke-width="0.8"/>
<circle cx="374.50" cy="311.88" r="1.95" fill="#d4a5c0" stroke="#9a4f80" stroke-width="0.8"/>
<circle cx="373.00" cy="313.76" r="1.95" fill="#d4a5c0" stroke="#9a4f80" stroke-width="0.8"/>
<text x="372.60" y="362.80" font-size="10.5" text-anchor="end" transform="rotate(-90 372.60 362.80)">[U–<tspan font-size="7" dy="-3.5">14</tspan><tspan dy="3.5">C]Val</tspan></text>
<rect x="381.90" y="351.64" width="7.50" height="7.76" fill="#dccfd9" stroke="#777" stroke-width="0.7"/>
<line x1="385.65" y1="349.05" x2="385.65" y2="353.94" stroke="#333" stroke-width="0.85"/>
<line x1="381.55" y1="349.05" x2="389.75" y2="349.05" stroke="#333" stroke-width="0.85"/>
<line x1="381.55" y1="353.94" x2="389.75" y2="353.94" stroke="#333" stroke-width="0.85"/>
<circle cx="386.50" cy="346.70" r="1.95" fill="#fff" stroke="#333" stroke-width="0.8"/>
<circle cx="383.60" cy="354.69" r="1.95" fill="#fff" stroke="#333" stroke-width="0.8"/>
<circle cx="388.30" cy="351.64" r="1.95" fill="#fff" stroke="#333" stroke-width="0.8"/>
<rect x="390.60" y="312.35" width="7.40" height="47.05" fill="#76466f" stroke="#555" stroke-width="0.7"/>
<line x1="394.30" y1="310.00" x2="394.30" y2="314.70" stroke="#333" stroke-width="0.85"/>
<line x1="390.20" y1="310.00" x2="398.40" y2="310.00" stroke="#333" stroke-width="0.85"/>
<line x1="390.20" y1="314.70" x2="398.40" y2="314.70" stroke="#333" stroke-width="0.85"/>
<circle cx="394.00" cy="306.70" r="1.95" fill="#d4a5c0" stroke="#9a4f80" stroke-width="0.8"/>
<circle cx="392.30" cy="314.70" r="1.95" fill="#d4a5c0" stroke="#9a4f80" stroke-width="0.8"/>
<circle cx="396.00" cy="314.70" r="1.95" fill="#d4a5c0" stroke="#9a4f80" stroke-width="0.8"/>
<text x="393.60" y="362.80" font-size="10.5" text-anchor="end" transform="rotate(-90 393.60 362.80)">[U–<tspan font-size="7" dy="-3.5">14</tspan><tspan dy="3.5">C]Leu</tspan></text>
<rect x="402.90" y="320.82" width="7.50" height="38.58" fill="#dccfd9" stroke="#777" stroke-width="0.7"/>
<line x1="406.65" y1="313.76" x2="406.65" y2="328.82" stroke="#333" stroke-width="0.85"/>
<line x1="402.55" y1="313.76" x2="410.75" y2="313.76" stroke="#333" stroke-width="0.85"/>
<line x1="402.55" y1="328.82" x2="410.75" y2="328.82" stroke="#333" stroke-width="0.85"/>
<circle cx="407.30" cy="306.70" r="1.95" fill="#fff" stroke="#333" stroke-width="0.8"/>
<circle cx="409.00" cy="322.70" r="1.95" fill="#fff" stroke="#333" stroke-width="0.8"/>
<circle cx="405.60" cy="331.64" r="1.95" fill="#fff" stroke="#333" stroke-width="0.8"/>
<rect x="411.60" y="312.35" width="7.40" height="47.05" fill="#76466f" stroke="#555" stroke-width="0.7"/>
<line x1="415.30" y1="303.41" x2="415.30" y2="321.76" stroke="#333" stroke-width="0.85"/>
<line x1="411.20" y1="303.41" x2="419.40" y2="303.41" stroke="#333" stroke-width="0.85"/>
<line x1="411.20" y1="321.76" x2="419.40" y2="321.76" stroke="#333" stroke-width="0.85"/>
<circle cx="417.20" cy="300.12" r="1.95" fill="#d4a5c0" stroke="#9a4f80" stroke-width="0.8"/>
<circle cx="413.00" cy="308.59" r="1.95" fill="#d4a5c0" stroke="#9a4f80" stroke-width="0.8"/>
<circle cx="415.10" cy="328.35" r="1.95" fill="#d4a5c0" stroke="#9a4f80" stroke-width="0.8"/>
<text x="414.60" y="362.80" font-size="10.5" text-anchor="end" transform="rotate(-90 414.60 362.80)">[1–<tspan font-size="7" dy="-3.5">14</tspan><tspan dy="3.5">C]KIV</tspan></text>
<rect x="423.90" y="317.05" width="7.50" height="42.35" fill="#dccfd9" stroke="#777" stroke-width="0.7"/>
<line x1="427.65" y1="313.76" x2="427.65" y2="319.88" stroke="#333" stroke-width="0.85"/>
<line x1="423.55" y1="313.76" x2="431.75" y2="313.76" stroke="#333" stroke-width="0.85"/>
<line x1="423.55" y1="319.88" x2="431.75" y2="319.88" stroke="#333" stroke-width="0.85"/>
<circle cx="428.30" cy="310.00" r="1.95" fill="#fff" stroke="#333" stroke-width="0.8"/>
<circle cx="425.90" cy="318.94" r="1.95" fill="#fff" stroke="#333" stroke-width="0.8"/>
<circle cx="430.20" cy="321.29" r="1.95" fill="#fff" stroke="#333" stroke-width="0.8"/>
<rect x="432.60" y="312.82" width="7.40" height="46.58" fill="#76466f" stroke="#555" stroke-width="0.7"/>
<line x1="436.30" y1="310.94" x2="436.30" y2="314.23" stroke="#333" stroke-width="0.85"/>
<line x1="432.20" y1="310.94" x2="440.40" y2="310.94" stroke="#333" stroke-width="0.85"/>
<line x1="432.20" y1="314.23" x2="440.40" y2="314.23" stroke="#333" stroke-width="0.85"/>
<circle cx="437.60" cy="309.06" r="1.95" fill="#d4a5c0" stroke="#9a4f80" stroke-width="0.8"/>
<circle cx="435.20" cy="313.76" r="1.95" fill="#d4a5c0" stroke="#9a4f80" stroke-width="0.8"/>
<circle cx="436.70" cy="315.64" r="1.95" fill="#d4a5c0" stroke="#9a4f80" stroke-width="0.8"/>
<text x="435.60" y="362.80" font-size="10.5" text-anchor="end" transform="rotate(-90 435.60 362.80)">[U–<tspan font-size="7" dy="-3.5">14</tspan><tspan dy="3.5">C]Ala</tspan></text>
<rect x="444.90" y="300.12" width="7.50" height="59.28" fill="#dccfd9" stroke="#777" stroke-width="0.7"/>
<line x1="448.65" y1="295.88" x2="448.65" y2="304.82" stroke="#333" stroke-width="0.85"/>
<line x1="444.55" y1="295.88" x2="452.75" y2="295.88" stroke="#333" stroke-width="0.85"/>
<line x1="444.55" y1="304.82" x2="452.75" y2="304.82" stroke="#333" stroke-width="0.85"/>
<circle cx="449.30" cy="292.12" r="1.95" fill="#fff" stroke="#333" stroke-width="0.8"/>
<circle cx="450.60" cy="299.18" r="1.95" fill="#fff" stroke="#333" stroke-width="0.8"/>
<circle cx="447.80" cy="308.59" r="1.95" fill="#fff" stroke="#333" stroke-width="0.8"/>
<rect x="453.60" y="312.82" width="7.40" height="46.58" fill="#76466f" stroke="#555" stroke-width="0.7"/>
<line x1="457.30" y1="308.12" x2="457.30" y2="317.05" stroke="#333" stroke-width="0.85"/>
<line x1="453.20" y1="308.12" x2="461.40" y2="308.12" stroke="#333" stroke-width="0.85"/>
<line x1="453.20" y1="317.05" x2="461.40" y2="317.05" stroke="#333" stroke-width="0.85"/>
<circle cx="455.60" cy="308.12" r="1.95" fill="#d4a5c0" stroke="#9a4f80" stroke-width="0.8"/>
<circle cx="458.90" cy="308.12" r="1.95" fill="#d4a5c0" stroke="#9a4f80" stroke-width="0.8"/>
<circle cx="457.00" cy="321.29" r="1.95" fill="#d4a5c0" stroke="#9a4f80" stroke-width="0.8"/>
<text x="456.60" y="362.80" font-size="10.5" text-anchor="end" transform="rotate(-90 456.60 362.80)">[U–<tspan font-size="7" dy="-3.5">14</tspan><tspan dy="3.5">C]Thr</tspan></text>
<rect x="465.90" y="312.82" width="7.50" height="46.58" fill="#dccfd9" stroke="#777" stroke-width="0.7"/>
<line x1="469.65" y1="309.53" x2="469.65" y2="316.11" stroke="#333" stroke-width="0.85"/>
<line x1="465.55" y1="309.53" x2="473.75" y2="309.53" stroke="#333" stroke-width="0.85"/>
<line x1="465.55" y1="316.11" x2="473.75" y2="316.11" stroke="#333" stroke-width="0.85"/>
<circle cx="468.50" cy="307.17" r="1.95" fill="#fff" stroke="#333" stroke-width="0.8"/>
<circle cx="471.50" cy="309.53" r="1.95" fill="#fff" stroke="#333" stroke-width="0.8"/>
<circle cx="470.40" cy="318.94" r="1.95" fill="#fff" stroke="#333" stroke-width="0.8"/>
<rect x="474.60" y="312.82" width="7.40" height="46.58" fill="#76466f" stroke="#555" stroke-width="0.7"/>
<line x1="478.30" y1="308.59" x2="478.30" y2="316.58" stroke="#333" stroke-width="0.85"/>
<line x1="474.20" y1="308.59" x2="482.40" y2="308.59" stroke="#333" stroke-width="0.85"/>
<line x1="474.20" y1="316.58" x2="482.40" y2="316.58" stroke="#333" stroke-width="0.85"/>
<circle cx="478.30" cy="304.82" r="1.95" fill="#d4a5c0" stroke="#9a4f80" stroke-width="0.8"/>
<circle cx="475.90" cy="318.47" r="1.95" fill="#d4a5c0" stroke="#9a4f80" stroke-width="0.8"/>
<circle cx="479.60" cy="314.70" r="1.95" fill="#d4a5c0" stroke="#9a4f80" stroke-width="0.8"/>
<text x="477.60" y="362.80" font-size="10.5" text-anchor="end" transform="rotate(-90 477.60 362.80)">[U–<tspan font-size="7" dy="-3.5">14</tspan><tspan dy="3.5">C]Asp</tspan></text>
<rect x="486.90" y="307.64" width="7.50" height="51.75" fill="#dccfd9" stroke="#777" stroke-width="0.7"/>
<line x1="490.65" y1="302.00" x2="490.65" y2="313.29" stroke="#333" stroke-width="0.85"/>
<line x1="486.55" y1="302.00" x2="494.75" y2="302.00" stroke="#333" stroke-width="0.85"/>
<line x1="486.55" y1="313.29" x2="494.75" y2="313.29" stroke="#333" stroke-width="0.85"/>
<circle cx="491.30" cy="296.82" r="1.95" fill="#fff" stroke="#333" stroke-width="0.8"/>
<circle cx="492.60" cy="309.53" r="1.95" fill="#fff" stroke="#333" stroke-width="0.8"/>
<circle cx="489.40" cy="315.17" r="1.95" fill="#fff" stroke="#333" stroke-width="0.8"/>
<rect x="495.60" y="313.29" width="7.40" height="46.11" fill="#76466f" stroke="#555" stroke-width="0.7"/>
<line x1="499.30" y1="310.94" x2="499.30" y2="314.70" stroke="#333" stroke-width="0.85"/>
<line x1="495.20" y1="310.94" x2="503.40" y2="310.94" stroke="#333" stroke-width="0.85"/>
<line x1="495.20" y1="314.70" x2="503.40" y2="314.70" stroke="#333" stroke-width="0.85"/>
<circle cx="501.10" cy="309.06" r="1.95" fill="#d4a5c0" stroke="#9a4f80" stroke-width="0.8"/>
<circle cx="497.80" cy="311.41" r="1.95" fill="#d4a5c0" stroke="#9a4f80" stroke-width="0.8"/>
<circle cx="499.30" cy="317.53" r="1.95" fill="#d4a5c0" stroke="#9a4f80" stroke-width="0.8"/>
<text x="498.60" y="362.80" font-size="10.5" text-anchor="end" transform="rotate(-90 498.60 362.80)">[U–<tspan font-size="7" dy="-3.5">14</tspan><tspan dy="3.5">C]Lys</tspan></text>
<path d="M363.2,341.9 V296.9 H372.4 V302.5" stroke="#888" stroke-width="0.8" fill="none"/>
<path d="M385.3,332.4 V298.7 H394.3 V301.2" stroke="#888" stroke-width="0.8" fill="none"/>
<text x="372.00" y="294.00" font-size="9.1" transform="rotate(-90 372.00 294.00)"><tspan font-style="italic">P</tspan> = 6×10<tspan font-size="6.8" dy="-3.2">−7</tspan></text>
<text x="394.20" y="296.80" font-size="9.1" transform="rotate(-90 394.20 296.80)"><tspan font-style="italic">P</tspan> = 6×10<tspan font-size="6.8" dy="-3.2">−4</tspan></text>
<line x1="610.50" y1="266.50" x2="610.50" y2="360.00" stroke="#333" stroke-width="1"/>
<line x1="610.00" y1="359.50" x2="658.00" y2="359.50" stroke="#333" stroke-width="1"/>
<line x1="607.00" y1="266.50" x2="610.50" y2="266.50" stroke="#333" stroke-width="1"/>
<line x1="607.00" y1="285.50" x2="610.50" y2="285.50" stroke="#333" stroke-width="1"/>
<text x="603.00" y="289.30" font-size="11" text-anchor="end">2</text>
<line x1="607.00" y1="303.50" x2="610.50" y2="303.50" stroke="#333" stroke-width="1"/>
<line x1="607.00" y1="322.50" x2="610.50" y2="322.50" stroke="#333" stroke-width="1"/>
<text x="603.00" y="326.30" font-size="11" text-anchor="end">1</text>
<line x1="607.00" y1="340.50" x2="610.50" y2="340.50" stroke="#333" stroke-width="1"/>
<line x1="607.00" y1="359.50" x2="610.50" y2="359.50" stroke="#333" stroke-width="1"/>
<text x="603.00" y="363.30" font-size="11" text-anchor="end">0</text>
<line x1="610.50" y1="359.50" x2="610.50" y2="362.20" stroke="#333" stroke-width="1"/>
<text x="610.30" y="375.40" font-size="11" text-anchor="middle">0</text>
<line x1="633.50" y1="359.50" x2="633.50" y2="362.20" stroke="#333" stroke-width="1"/>
<text x="633.60" y="375.40" font-size="11" text-anchor="middle">10</text>
<line x1="656.50" y1="359.50" x2="656.50" y2="362.20" stroke="#333" stroke-width="1"/>
<text x="656.90" y="375.40" font-size="11" text-anchor="middle">20</text>
<text x="635.60" y="388.90" font-size="10.7" text-anchor="middle">Time (min)</text>
<text x="639.40" y="240.80" font-size="11.3" text-anchor="middle">Liposome</text>
<text x="578.10" y="323.00" font-size="11.2" text-anchor="middle" transform="rotate(-90 578.10 323.00)">[U-<tspan font-size="7.5" dy="-4">14</tspan><tspan dy="4">C]Leu uptake</tspan></text>
<text x="589.10" y="324.60" font-size="11.2" text-anchor="middle" transform="rotate(-90 589.10 324.60)">(nmol per mg protein)</text>
<path d="M612.63,349.68 L633.60,352.27 L656.90,353.75" stroke="#777" stroke-width="0.9" fill="none"/>
<circle cx="633.60" cy="352.27" r="2.9" fill="#ddd3da" stroke="#777" stroke-width="0.8"/>
<circle cx="656.90" cy="353.75" r="2.9" fill="#ddd3da" stroke="#777" stroke-width="0.8"/>
<line x1="633.60" y1="318.97" x2="633.60" y2="300.84" stroke="#6e3a64" stroke-width="0.9"/>
<line x1="656.90" y1="299.36" x2="656.90" y2="284.93" stroke="#6e3a64" stroke-width="0.9"/>
<path d="M610.30,359.30 L612.63,349.68 Q624.28,331.18 633.60,318.97 Q645.25,306.39 656.90,299.36" stroke="#6e3a64" stroke-width="1.4" fill="none"/>
<circle cx="610.30" cy="359.30" r="3.2" fill="#6e3a64"/>
<circle cx="612.63" cy="349.68" r="3.2" fill="#6e3a64"/>
<circle cx="633.60" cy="318.97" r="3.2" fill="#6e3a64"/>
<circle cx="656.90" cy="299.36" r="3.2" fill="#6e3a64"/>
<text x="646.50" y="281.20" font-size="9.2" text-anchor="middle" fill="#6a2f58">KO + <tspan font-style="italic">Slc25a44</tspan></text>
<text x="644.90" y="346.50" font-size="9.4" text-anchor="middle" fill="#8a8a8a">KO + vector</text>
<path d="M668.8,298 H672.6 V352.6 H669.3" stroke="#666" stroke-width="0.8" fill="none"/>
<text x="682.00" y="326.60" font-size="9.5" text-anchor="middle" transform="rotate(-90 682.00 326.60)"><tspan font-style="italic">P</tspan> = 0.02</text>
</svg>
</body></html>
